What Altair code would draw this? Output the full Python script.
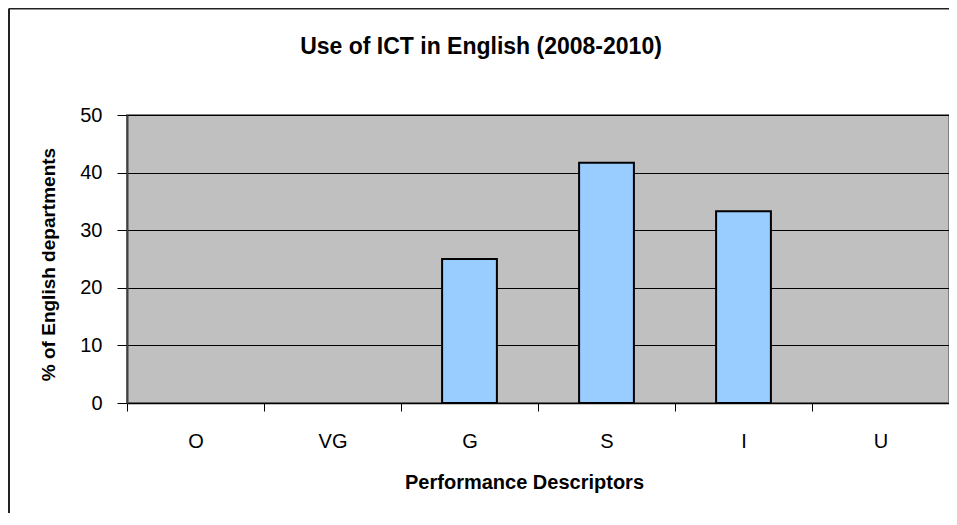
import altair as alt
import pandas as pd

categories = ["O", "VG", "G", "S", "I", "U"]
values = [0, 0, 25, 41.7, 33.3, 0]
y_ticks = [0, 10, 20, 30, 40, 50]

title_text = "Use of ICT in English (2008-2010)"
x_title = "Performance Descriptors"
y_title = "% of English departments"

df = pd.DataFrame({"cat": categories, "value": values})

W, H = 822, 288
FONT = "Liberation Sans"

bars = alt.Chart(df).transform_filter("datum.value > 0").mark_bar(
    fill="#99CCFF", stroke="#000000", strokeWidth=2,
    width=alt.RelativeBandSize(0.4),
).encode(
    x=alt.X(
        "cat:N",
        sort=categories,
        scale=alt.Scale(domain=categories, paddingInner=0, paddingOuter=0),
        axis=alt.Axis(
            title=x_title,
            titleFontSize=20,
            titleFontWeight="bold",
            titleFont=FONT,
            titleColor="#000000",
            titleX=397,
            titleY=85,
            titleBaseline="alphabetic",
            titleAnchor="start",
            titleAlign="center",
            labelAngle=0,
            labelFontSize=20,
            labelFont=FONT,
            labelColor="#000000",
            labelPadding=20,
            labelBaseline="top",
            tickBand="extent",
            tickSize=8,
            tickColor="#000000",
            tickWidth=1,
            domainColor="#000000",
            domainWidth=1.5,
            grid=False,
        ),
    ),
    y=alt.Y(
        "value:Q",
        scale=alt.Scale(domain=[0, 50], nice=False),
        axis=alt.Axis(
            title=y_title,
            titleFontSize=19,
            titleFontWeight="bold",
            titleFont=FONT,
            titleColor="#000000",
            titleAngle=270,
            titleX=-79,
            titleY=149,
            titleBaseline="middle",
            titleAlign="center",
            values=y_ticks,
            labelFontSize=20,
            labelFont=FONT,
            labelColor="#000000",
            labelPadding=15,
            tickSize=10,
            tickColor="#000000",
            tickWidth=1,
            domainColor="#404040",
            domainWidth=2,
            grid=True,
            gridColor="#000000",
            gridWidth=1,
        ),
    ),
)

frame = alt.Data(values=[{"k": 1}])
border_left = alt.Chart(frame).mark_rule(color="#222222", strokeWidth=2).encode(
    x=alt.value(-118), y=alt.value(-106.5), y2=alt.value(H + 120)
)
border_top = alt.Chart(frame).mark_rule(color="#222222", strokeWidth=2).encode(
    x=alt.value(-118), x2=alt.value(W + 20), y=alt.value(-106.5)
)
title_mark = alt.Chart(frame).mark_text(
    text=title_text,
    font=FONT,
    fontSize=23,
    fontWeight="bold",
    color="#000000",
    align="center",
    baseline="alphabetic",
).encode(x=alt.value(354), y=alt.value(-61))

chart = alt.layer(bars, border_left, border_top, title_mark).properties(
    width=W,
    height=H,
    autosize=alt.AutoSizeParams(type="none"),
    padding={"left": 119, "top": 107, "right": 0, "bottom": 110},
).configure(background="#FFFFFF").configure_view(
    fill="#C0C0C0", stroke="#808080", strokeWidth=2
)

chart.save("out.html", embed_options={"renderer": "svg", "actions": False})
